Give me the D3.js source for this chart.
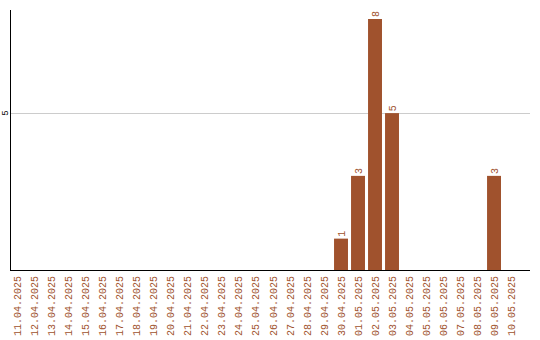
<!DOCTYPE html>
<html>
<head>
<meta charset="utf-8">
<script src="https://cdn.jsdelivr.net/npm/d3@7"></script>
<style>
  body { margin: 0; background: #fff; }
</style>
</head>
<body>
<div id="chart"></div>
<script>
const dates = ["11.04.2025", "12.04.2025", "13.04.2025", "14.04.2025", "15.04.2025",
    "16.04.2025", "17.04.2025", "18.04.2025", "19.04.2025", "20.04.2025",
    "21.04.2025", "22.04.2025", "23.04.2025", "24.04.2025", "25.04.2025",
    "26.04.2025", "27.04.2025", "28.04.2025", "29.04.2025", "30.04.2025",
    "01.05.2025", "02.05.2025", "03.05.2025", "04.05.2025", "05.05.2025",
    "06.05.2025", "07.05.2025", "08.05.2025", "09.05.2025", "10.05.2025"];
const counts = [0, 0, 0, 0, 0, 0, 0, 0, 0, 0,
    0, 0, 0, 0, 0, 0, 0, 0, 0, 1,
    3, 8, 5, 0, 0, 0, 0, 0, 3, 0];
const yTicks = [5];

const width = 540;
const height = 340;
const color = "#a0522d";
const font = "Liberation Mono, monospace";

const data = dates.map((d, i) => ({ name: d, value: counts[i] }));

const x = d3.scaleBand()
        .domain(dates)
        .range([11, 518])
        .paddingInner(0.18)
        .paddingOuter(0);

const y = d3.scaleLinear()
        .domain([0, 8])
        .range([270, 19]);

const svg = d3.select("#chart")
        .append("svg")
        .attr("width", width)
        .attr("height", height)
        .attr("font-family", font);

// grid lines
svg.append("g")
    .selectAll("line")
    .data(yTicks)
    .join("line")
        .attr("x1", 11)
        .attr("x2", 530)
        .attr("y1", d => Math.round(y(d)) + 0.5)
        .attr("y2", d => Math.round(y(d)) + 0.5)
        .attr("stroke", "#cccccc");

// bars
const bar = svg.append("g")
    .selectAll("g")
    .data(data.filter(d => d.value > 0))
    .join("g");

bar.append("rect")
    .attr("fill", color)
    .attr("x", d => x(d.name))
    .attr("y", d => y(d.value))
    .attr("width", x.bandwidth())
    .attr("height", d => y(0) - y(d.value));

bar.append("text")
    .attr("fill", color)
    .attr("font-size", 10)
    .attr("text-anchor", "start")
    .attr("dy", "0.35em")
    .attr("transform", d => `translate(${x(d.name) + x.bandwidth() / 2}, ${y(d.value) - 2}) rotate(-90)`)
    .text(d => d.value);

// y axis
const yAxis = d3.axisLeft(y).tickValues(yTicks).tickSize(0).tickFormat(d3.format("d"));
const gy = svg.append("g")
    .attr("transform", "translate(11,0)")
    .call(yAxis);
gy.select(".domain").remove();
gy.selectAll(".tick").attr("transform", null);
gy.selectAll("text")
    .attr("font-family", font)
    .attr("font-size", 9)
    .attr("fill", "#000")
    .attr("text-anchor", "middle")
    .attr("x", 0)
    .attr("y", 0)
    .attr("dy", "0.35em")
    .attr("transform", d => `translate(-6, ${y(d)}) rotate(-90)`);

svg.append("line")
    .attr("x1", 10.5).attr("x2", 10.5)
    .attr("y1", 10).attr("y2", 271)
    .attr("stroke", "#000");

// x axis
const xAxis = d3.axisBottom(x).tickSize(0);
const gx = svg.append("g")
    .attr("transform", "translate(0,270)")
    .call(xAxis);
gx.select(".domain").remove();
gx.selectAll("text")
    .attr("font-family", font)
    .attr("font-size", 10)
    .attr("fill", color)
    .attr("text-anchor", "end")
    .attr("dy", "0.35em")
    .attr("y", 0)
    .attr("x", -6)
    .attr("transform", "rotate(-90)");

svg.append("line")
    .attr("x1", 10).attr("x2", 530)
    .attr("y1", 270.5).attr("y2", 270.5)
    .attr("stroke", "#000");
</script>
</body>
</html>
